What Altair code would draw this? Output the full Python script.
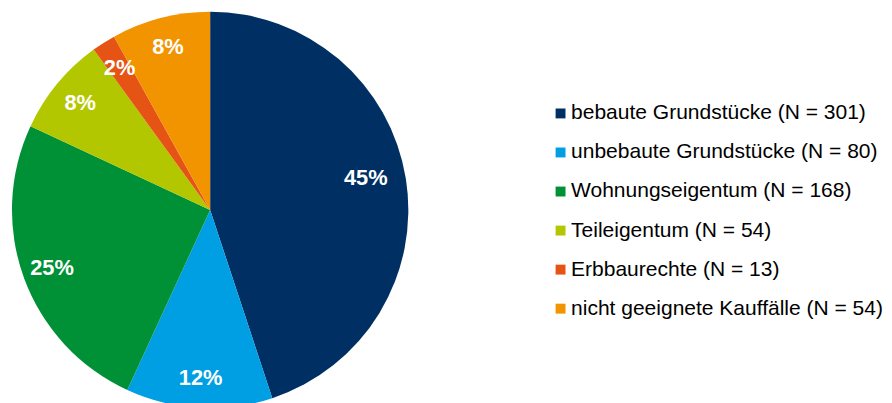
import altair as alt
import pandas as pd

categories = [
    "bebaute Grundstücke (N = 301)",
    "unbebaute Grundstücke (N = 80)",
    "Wohnungseigentum (N = 168)",
    "Teileigentum (N = 54)",
    "Erbbaurechte (N = 13)",
    "nicht geeignete Kauffälle (N = 54)",
]
counts = [301, 80, 168, 54, 13, 54]
pct_labels = ["45%", "12%", "25%", "8%", "2%", "8%"]
colors = ["#003063", "#009FE3", "#009036", "#B2C700", "#E55315", "#F29400"]

df = pd.DataFrame({
    "cat": categories,
    "n": counts,
    "lbl": pct_labels,
    "ord": list(range(len(categories))),
})

FONT = "Liberation Sans"
CX, CY, R = 204, 202, 200

base = alt.Chart(df).encode(
    theta=alt.Theta("n:Q", stack=True),
    order=alt.Order("ord:Q"),
)

color = alt.Color(
    "cat:N",
    scale=alt.Scale(domain=categories, range=colors),
    sort=categories,
    legend=alt.Legend(
        title=None,
        orient="none",
        legendX=544,
        legendY=94,
        symbolType="square",
        symbolSize=100,
        symbolStrokeWidth=0,
        symbolOffset=3,
        labelFont=FONT,
        labelFontSize=21.2,
        labelColor="#000000",
        labelOffset=0,
        labelLimit=500,
        rowPadding=17.4,
        padding=0,
    ),
)

arcs = base.mark_arc(stroke=None).encode(
    color=color,
    x=alt.value(CX),
    y=alt.value(CY),
    radius=alt.value(R),
)

txt_big = base.mark_text(
    font=FONT, fontSize=22, fontWeight="bold", color="white",
    align="center", baseline="middle", dy=-7,
).encode(
    text="lbl:N", x=alt.value(CX), y=alt.value(CY), radius=alt.value(159),
    opacity=alt.condition("datum.n > 200", alt.value(1), alt.value(0)),
)

txt_small = base.mark_text(
    font=FONT, fontSize=22, fontWeight="bold", color="white",
    align="center", baseline="middle",
).encode(
    text="lbl:N", x=alt.value(CX), y=alt.value(CY), radius=alt.value(170),
    opacity=alt.condition("datum.n > 200", alt.value(0), alt.value(1)),
)

chart = alt.layer(arcs, txt_big, txt_small).properties(
    width=884, height=395,
    autosize=alt.AutoSizeParams(type="none"),
    padding=0,
).configure_view(stroke=None)

chart.save("out.html", embed_options={"renderer": "svg", "actions": False})
